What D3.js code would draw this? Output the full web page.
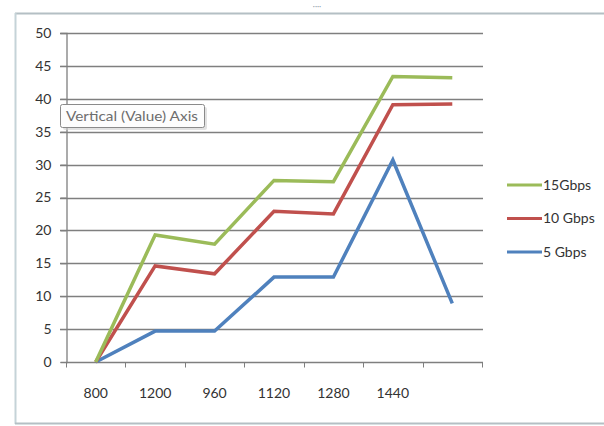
<!DOCTYPE html>
<html><head><meta charset="utf-8">
<script src="https://cdn.jsdelivr.net/npm/d3@7"></script>
<style>
html,body{margin:0;padding:0;background:#fff;}
svg{display:block;font-family:Lato,"Open Sans",sans-serif;}
</style></head>
<body>
<svg id="chart" width="604" height="426"></svg>
<script>
const categories = ["800","1200","960","1120","1280","1440",""];
const seriesNames = ["15Gbps","10 Gbps","5 Gbps"];
const series15 = [0, 19.3, 17.9, 27.6, 27.4, 43.4, 43.2];
const series10 = [0, 14.6, 13.4, 22.9, 22.5, 39.1, 39.2];
const series5  = [0, 4.7, 4.7, 12.9, 12.9, 30.7, 8.9];
const seriesColors = ["#9bbb59","#c0504d","#4f81bd"];
const yTicks = [0,5,10,15,20,25,30,35,40,45,50];

const svg = d3.select("#chart");

// outer frame
svg.append("line").attr("x1",15).attr("x2",604).attr("y1",13.5).attr("y2",13.5).attr("stroke","#b4bfc4").attr("stroke-width",2);
svg.append("line").attr("x1",15.5).attr("x2",15.5).attr("y1",13).attr("y2",424).attr("stroke","#c5d3d8").attr("stroke-width",2);
svg.append("line").attr("x1",15).attr("x2",604).attr("y1",423.5).attr("y2",423.5).attr("stroke","#b4bfc4").attr("stroke-width",2);
// handle dots
svg.append("text").attr("x",317).attr("y",9).attr("text-anchor","middle").attr("font-size",8).attr("fill","#8a9aa6").text("····");

const x = d3.scaleBand().domain(categories.map((c,i)=>i)).range([66,482]);
const y = d3.scaleLinear().domain([0,50]).range([362,33]);

// gridlines
svg.append("g").selectAll("line").data(yTicks.filter(d=>d>0)).join("line")
  .attr("x1",60).attr("x2",483)
  .attr("y1",d=>Math.round(y(d))+0.5).attr("y2",d=>Math.round(y(d))+0.5)
  .attr("stroke","#7f7f7f").attr("stroke-width",1.3);

// y axis
const yAxis = svg.append("g").attr("transform","translate(66.5,0)")
  .call(d3.axisLeft(y).tickValues(yTicks).tickSize(6).tickPadding(9));
yAxis.select(".domain").attr("stroke","#7f7f7f").attr("stroke-width",1.3);
yAxis.selectAll(".tick line").attr("stroke","#7f7f7f");
yAxis.selectAll("text").attr("font-size",14).attr("fill","#333").attr("font-family","Lato,'Open Sans',sans-serif");

// x axis
const xAxisG = svg.append("g").attr("transform","translate(0,362.5)");
xAxisG.append("line").attr("x1",66).attr("x2",483).attr("stroke","#7f7f7f").attr("stroke-width",1.3);
const bounds = categories.map((c,i)=>x(i)).concat([x.range()[1]]);
xAxisG.selectAll("line.t").data(bounds).join("line").attr("class","t")
  .attr("x1",d=>Math.round(d)+0.5).attr("x2",d=>Math.round(d)+0.5).attr("y1",0).attr("y2",5)
  .attr("stroke","#7f7f7f");
xAxisG.selectAll("text").data(categories).join("text")
  .attr("x",(d,i)=>x(i)+x.bandwidth()/2).attr("y",35)
  .attr("text-anchor","middle").attr("font-size",14).attr("fill","#333").text(d=>d);

// lines
const allSeries = [series15, series10, series5];
const line = d3.line().x((d,i)=>x(i)+x.bandwidth()/2).y(d=>y(d));
svg.append("g").selectAll("path").data(allSeries.slice().reverse()).join("path")
  .attr("d",d=>line(d)).attr("fill","none")
  .attr("stroke",(d,i)=>seriesColors[2-i]).attr("stroke-width",3.5)
  .attr("stroke-linejoin","miter");

// legend
const lg = svg.append("g");
seriesNames.forEach((n,i)=>{
  const yy = 185 + i*33.5;
  lg.append("line").attr("x1",507).attr("x2",542).attr("y1",yy).attr("y2",yy)
    .attr("stroke",seriesColors[i]).attr("stroke-width",3);
  lg.append("text").attr("x",543).attr("y",yy).attr("dy","0.35em")
    .attr("font-size",14).attr("fill","#333").text(n);
});

// tooltip
const tt = svg.append("g");
tt.append("rect").attr("x",63).attr("y",107).attr("width",144).attr("height",23).attr("rx",2)
  .attr("fill","#cfcfcf").attr("opacity",0.6);
tt.append("rect").attr("x",60.5).attr("y",104.5).attr("width",144).attr("height",23).attr("rx",2)
  .attr("fill","#fdfdfd").attr("stroke","#8a8a8a").attr("stroke-width",1);
tt.append("text").attr("x",66).attr("y",116).attr("dy","0.35em").attr("font-size",13.5)
  .attr("textLength",132).attr("lengthAdjust","spacingAndGlyphs")
  .attr("fill","#6d6d6d").text("Vertical (Value) Axis");
</script>
</body></html>
